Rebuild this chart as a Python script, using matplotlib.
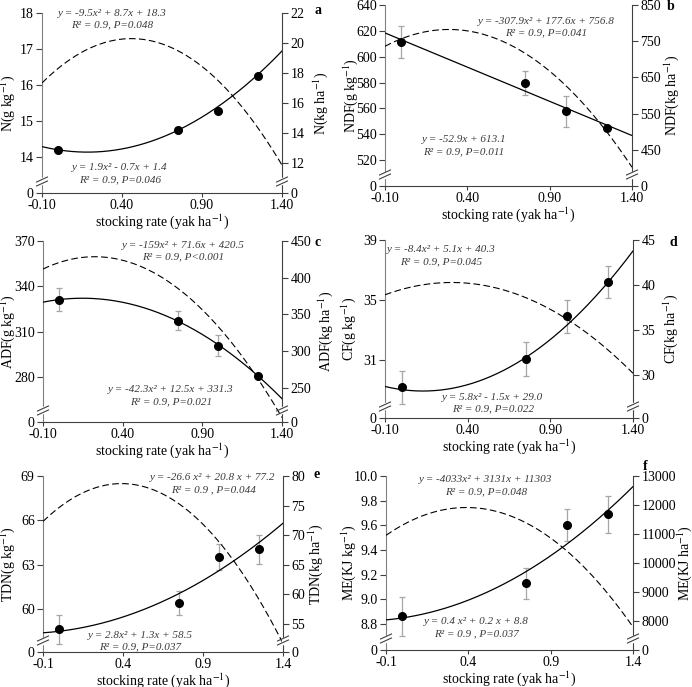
import matplotlib.pyplot as plt
import numpy as np

plt.rcParams['font.family'] = 'Liberation Serif'
plt.rcParams['mathtext.fontset'] = 'stix'
plt.rcParams['font.size'] = 10

# stocking rate of the four grazing treatments
x_rate = [0.0, 0.75, 1.0, 1.25]

# concentrations (left axis) and their errors
n_conc = [14.20, 14.75, 15.29, 16.26]
n_err = [0.05, 0.05, 0.05, 0.05]
ndf_conc = [611.1, 580.0, 557.8, 544.6]
ndf_err = [12.4, 9.3, 12.0, 2.0]
adf_conc = [331.2, 317.3, 301.0, 281.2]
adf_err = [7.7, 6.3, 6.8, 1.0]
cf_conc = [29.15, 31.05, 33.9, 36.18]
cf_err = [1.1, 1.15, 1.1, 1.05]
tdn_conc = [58.63, 60.43, 63.52, 64.04]
tdn_err = [1.0, 0.8, 0.9, 1.0]
me_conc = [8.862, 9.132, 9.60, 9.69]
me_err = [0.155, 0.125, 0.13, 0.15]

# trend lines (quadratic coefficients), per kg (solid) and per ha (dashed)
n_fit = [1.9, -0.7, 14.2]
n_area_fit = [-9.5, 8.7, 18.3]
ndf_fit = [0.0, -52.9, 613.1]
ndf_area_fit = [-307.9, 177.6, 756.8]
adf_fit = [-42.3, 12.5, 331.3]
adf_area_fit = [-159.0, 71.6, 420.5]
cf_fit = [5.8, -1.5, 29.0]
cf_area_fit = [-8.4, 5.1, 39.5]
tdn_fit = [2.8, 1.3, 58.5]
tdn_area_fit = [-26.6, 20.8, 74.65]
me_fit = [0.4, 0.2, 8.85]
me_area_fit = [-4033, 3131, 11303]

W, H = 692, 687
fig = plt.figure(figsize=(W / 100, H / 100), dpi=100)

panels = [
    dict(box=(42, 13, 282, 193), y=n_conc, e=n_err, fit=n_fit, afit=n_area_fit,
         lim=(13.0, 18), ticks=[14, 15, 16, 17, 18], fmt='%d',
         rlim=(10.0, 22), rticks=[12, 14, 16, 18, 20, 22], rfmt='%d',
         name='N', unit='g', runit='kg', xfmt='%.2f', letter='a', lx=-0.104, rx=1.121,
         eq_top=('y = -9.5x² + 8.7x + 18.3', 'R² = 0.9, P=0.048', 112, 13),
         eq_bot=('y = 1.9x² - 0.7x + 1.4', 'R² = 0.9, P=0.046', 120, 168),
         lpos=(318, 11)),
    dict(box=(385, 5, 632, 186), y=ndf_conc, e=ndf_err, fit=ndf_fit, afit=ndf_area_fit,
         lim=(500, 640), ticks=[520, 540, 560, 580, 600, 620, 640], fmt='%d',
         rlim=(350, 850), rticks=[450, 550, 650, 750, 850], rfmt='%d',
         name='NDF', unit='g', runit='kg', xfmt='%.2f', letter='b', lx=-0.1, rx=1.121,
         eq_top=('y = -307.9x² + 177.6x + 756.8', 'R² = 0.9, P=0.041', 546, 21),
         eq_bot=('y = -52.9x + 613.1', 'R² = 0.9, P=0.011', 464, 140),
         lpos=(671, 6)),
    dict(box=(43, 241, 282, 422), y=adf_conc, e=adf_err, fit=adf_fit, afit=adf_area_fit,
         lim=(250.5, 370), ticks=[280, 310, 340, 370], fmt='%d',
         rlim=(203, 450), rticks=[250, 300, 350, 400, 450], rfmt='%d',
         name='ADF', unit='g', runit='kg', xfmt='%.2f', letter='c', lx=-0.11, rx=1.142,
         eq_top=('y = -159x² + 71.6x + 420.5', 'R² = 0.9, P<0.001', 183, 245),
         eq_bot=('y = -42.3x² + 12.5x + 331.3', 'R² = 0.9, P=0.021', 171, 390),
         lpos=(318, 242)),
    dict(box=(385, 240, 633, 418), y=cf_conc, e=cf_err, fit=cf_fit, afit=cf_area_fit,
         lim=(27.1, 39), ticks=[31, 35, 39], fmt='%d',
         rlim=(25.2, 45), rticks=[30, 35, 40, 45], rfmt='%d',
         name='CF', unit='g', runit='kg', xfmt='%.2f', letter='d', lx=-0.11, rx=1.113,
         eq_top=('y = -8.4x² + 5.1x + 40.3', 'R² = 0.9, P=0.045', 441, 250),
         eq_bot=('y = 5.8x² - 1.5x + 29.0', 'R² = 0.9, P=0.022', 493, 397),
         lpos=(673, 242)),
    dict(box=(43, 476, 283, 652), y=tdn_conc, e=tdn_err, fit=tdn_fit, afit=tdn_area_fit,
         lim=(57.1, 69), ticks=[60, 63, 66, 69], fmt='%d',
         rlim=(50.2, 80), rticks=[55, 60, 65, 70, 75, 80], rfmt='%d',
         name='TDN', unit='g', runit='kg', xfmt='%.1f', letter='e', lx=-0.11, rx=1.096,
         eq_top=('y = -26.6 x² + 20.8 x + 77.2', 'R² = 0.9 , P=0.044', 213, 478),
         eq_bot=('y = 2.8x² + 1.3x + 58.5', 'R² = 0.9, P=0.037', 140, 635),
         lpos=(317, 475)),
    dict(box=(386, 476, 633, 650), y=me_conc, e=me_err, fit=me_fit, afit=me_area_fit,
         lim=(8.59, 10.0), ticks=[8.8, 9.0, 9.2, 9.4, 9.6, 9.8, 10.0], fmt='%.1f',
         rlim=(6986, 13000), rticks=[8000, 9000, 10000, 11000, 12000, 13000], rfmt='%d',
         name='ME', unit='KJ', runit='KJ', xfmt='%.1f', letter='f', lx=-0.114, rx=1.17,
         eq_top=('y = -4033x² + 3131x + 11303', 'R² = 0.9, P=0.048', 486, 480),
         eq_bot=('y = 0.4 x² + 0.2 x + 8.8', 'R² = 0.9 , P=0.037', 476, 622),
         lpos=(645, 466)),
]

xs = np.linspace(-0.1, 1.4, 200)
spine_dark = '#404040'
txt_col = '#3a3a3a'


def fig_xy(px, py):
    return px / W, 1 - py / H


def add_break(ax, side, wpx, hpx):
    yb = 11.5 / hpx
    dx, dy, g = 5.5 / wpx, 2.5 / hpx, 4.0 / hpx
    ax.plot([side, side], [yb - g / 2, yb + g / 2], color='white', lw=2.5,
            transform=ax.transAxes, clip_on=False, zorder=6)
    for off in (-g / 2, g / 2):
        ax.plot([side - dx, side + dx], [yb + off - dy, yb + off + dy], color=spine_dark,
                lw=0.8, transform=ax.transAxes, clip_on=False, zorder=7)


for p in panels:
    l, t, r, b = p['box']
    wpx, hpx = r - l, b - t
    ax = fig.add_axes([l / W, 1 - b / H, wpx / W, hpx / H])
    ax2 = ax.twinx()

    ax.plot(xs, np.polyval(p['fit'], xs), color='black', lw=0.9, zorder=3)
    ax2.plot(xs, np.polyval(p['afit'], xs), color='black', lw=0.8, dashes=(6, 3), zorder=3)
    ax.errorbar(x_rate, p['y'], yerr=p['e'], fmt='none', ecolor='#a6a6a6',
                elinewidth=0.9, capsize=2.5, capthick=0.9, zorder=2)
    ax.plot(x_rate, p['y'], 'o', color='black', ms=5.5, zorder=4)

    ax.set_xlim(-0.1, 1.4)
    ax.set_xticks([-0.1, 0.4, 0.9, 1.4])
    ax.set_xticklabels([p['xfmt'] % v for v in [-0.1, 0.4, 0.9, 1.4]])
    ax.set_ylim(*p['lim'])
    ax.set_yticks([p['lim'][0]] + p['ticks'])
    ax.set_yticklabels(['0'] + [p['fmt'] % v for v in p['ticks']])
    ax2.set_ylim(*p['rlim'])
    ax2.set_yticks([p['rlim'][0]] + p['rticks'])
    ax2.set_yticklabels(['0'] + [p['rfmt'] % v for v in p['rticks']])

    for a in (ax, ax2):
        a.spines['top'].set_visible(False)
        a.tick_params(direction='out', length=4, width=0.8, color=spine_dark,
                      labelsize=10, pad=2)
    ax.tick_params(axis='x', length=3, pad=1)
    ax.spines['right'].set_visible(False)
    ax2.spines['left'].set_visible(False)
    ax2.spines['bottom'].set_visible(False)
    ax.spines['left'].set_color('#808080')
    ax.spines['bottom'].set_color(spine_dark)
    ax2.spines['right'].set_color(spine_dark)
    for s in (ax.spines['left'], ax.spines['bottom'], ax2.spines['right']):
        s.set_linewidth(0.8)

    ax.set_ylabel('%s(%s kg$^{-1}$)' % (p['name'], p['unit']), fontsize=10)
    ax.yaxis.set_label_coords(p['lx'], 0.5)
    ax2.set_ylabel('%s(%s ha$^{-1}$)' % (p['name'], p['runit']), fontsize=10)
    ax2.yaxis.set_label_coords(p['rx'], 0.5)
    ax.set_xlabel('stocking rate (yak ha$^{-1}$)', fontsize=10)
    ax.xaxis.set_label_coords(0.5, -19 / hpx)

    add_break(ax2, 0.0, wpx, hpx)
    add_break(ax2, 1.0, wpx, hpx)

    for eq in (p['eq_top'], p['eq_bot']):
        s1, s2, ex, ey = eq
        fig.text(*fig_xy(ex, ey), s1, ha='center', va='center', style='italic',
                 fontsize=8, color=txt_col)
        fig.text(*fig_xy(ex, ey + 11.5), s2, ha='center', va='center', style='italic',
                 fontsize=8, color=txt_col)
    fig.text(*fig_xy(*p['lpos']), p['letter'], ha='center', va='center',
             fontweight='bold', fontsize=10)

plt.savefig('out.png', dpi=100)
